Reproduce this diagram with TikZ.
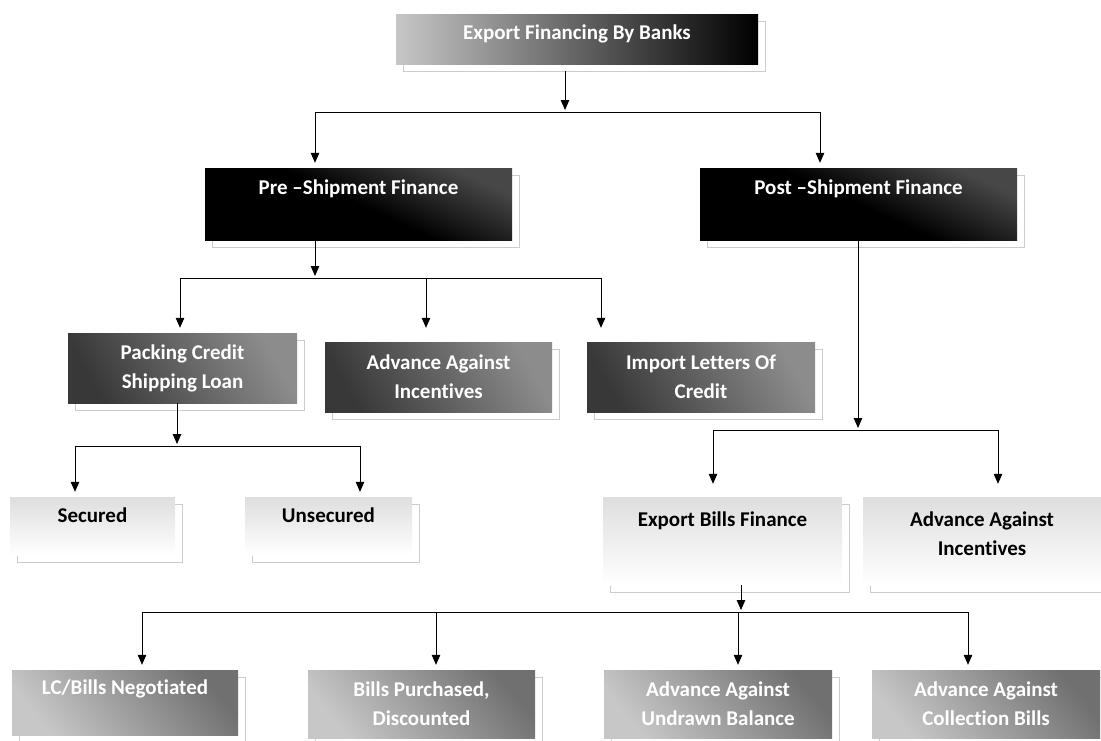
\documentclass[tikz,border=0pt]{standalone}
\usepackage{fontspec}
\setmainfont{Carlito}[Ligatures={TeX,NoCommon}]
\usepackage{tikz}
\usetikzlibrary{positioning}
\usetikzlibrary{arrows.meta}
\usetikzlibrary{shadows}
\tikzset{
    box/.style={shape=rectangle, align=center, inner sep=2pt,
        font=\bfseries\fontsize{21}{29}\selectfont,
        general shadow={shadow xshift=7pt, shadow yshift=-7pt, fill=white, draw=black!20, line width=0.8pt}},
    title node/.style={box, text=white, left color=black!22, right color=black},
    black node/.style={box, text=white, top color=black!72, bottom color=black, middle color=black, shading angle=-25},
    dark node/.style={box, text=white, top color=black!45, bottom color=black!78, shading angle=-60},
    light node/.style={box, text=black, top color=black!13, bottom color=white},
    grey node/.style={box, text=white, top color=black!56, bottom color=black!22, shading angle=-50},
    link/.style={line width=1pt, -{Triangle[length=10pt,width=8.5pt]}, shorten >=5pt},
    bus/.style={line width=1pt}
}
\begin{document}
\begin{tikzpicture}[x=1pt, y=-1pt]
    \useasboundingbox (0,0) rectangle (1101,740);
    % boxes
    \node(export)[title node, minimum width=362pt, minimum height=50pt, text depth=13pt] at (577,39) {Export Financing By Banks};
    \node(pre)[black node, minimum width=307pt, minimum height=72pt, text depth=34pt] at (358.5,204) {Pre –Shipment Finance};
    \node(post)[black node, minimum width=317pt, minimum height=72pt, text depth=34pt] at (858.5,204) {Post –Shipment Finance};
    \node(pack)[dark node, minimum width=229pt, minimum height=70pt] at (182.5,368) {Packing Credit\\Shipping Loan};
    \node(advpre)[dark node, minimum width=227pt, minimum height=70pt] at (438.5,377) {Advance Against\\Incentives};
    \node(import)[dark node, minimum width=228pt, minimum height=70pt] at (701,377) {Import Letters Of\\Credit};
    \node(secured)[light node, minimum width=165pt, minimum height=58pt, text depth=21pt] at (92.5,526) {Secured};
    \node(unsecured)[light node, minimum width=167pt, minimum height=58pt, text depth=21pt] at (328.5,526) {Unsecured};
    \node(bills)[light node, minimum width=239pt, minimum height=88pt, text depth=44pt] at (722.5,541) {Export Bills Finance};
    \node(advpost)[light node, minimum width=238pt, minimum height=88pt, text depth=14pt] at (982,541) {Advance Against\\Incentives};
    \node(lcneg)[grey node, minimum width=226pt, minimum height=65pt, text depth=30pt] at (125,702.5) {LC/Bills Negotiated};
    \node(purchased)[grey node, minimum width=227pt, minimum height=68pt] at (421.5,704) {Bills Purchased,\\Discounted};
    \node(undrawn)[grey node, minimum width=228pt, minimum height=68pt] at (718,704) {Advance Against\\Undrawn Balance};
    \node(collect)[grey node, minimum width=228pt, minimum height=68pt] at (986,704) {Advance Against\\Collection Bills};
    % junctions
    \coordinate(j0) at (565,112);
    \coordinate(j0l) at (315,112);
    \coordinate(j0r) at (820,112);
    \coordinate(j1) at (315,278);
    \coordinate(j1l) at (180,278);
    \coordinate(j1m) at (426,278);
    \coordinate(j1r) at (601,278);
    \coordinate(j2) at (177,446);
    \coordinate(j2l) at (75,446);
    \coordinate(j2r) at (360,446);
    \coordinate(j3) at (858,430);
    \coordinate(j3l) at (713,430);
    \coordinate(j3r) at (998,430);
    \coordinate(j4) at (741,612);
    \coordinate(j4a) at (142,612);
    \coordinate(j4b) at (436,612);
    \coordinate(j4c) at (738,612);
    \coordinate(j4d) at (968,612);
    % connectors
    \draw[link, shorten <=7pt, shorten >=2pt](export.south -| j0) -- (j0);
    \draw[bus](j0l) -- (j0r);
    \draw[link](j0l) -- (j0l |- pre.north);
    \draw[link](j0r) -- (j0r |- post.north);
    \draw[link, shorten >=2pt](pre.south -| j1) -- (j1);
    \draw[bus](j1l) -- (j1r);
    \draw[link](j1l) -- (j1l |- pack.north);
    \draw[link, shorten >=14pt](j1m) -- (j1m |- advpre.north);
    \draw[link, shorten >=14pt](j1r) -- (j1r |- import.north);
    \draw[link, shorten >=2pt](pack.south -| j2) -- (j2);
    \draw[bus](j2l) -- (j2r);
    \draw[link](j2l) -- (j2l |- secured.north);
    \draw[link](j2r) -- (j2r |- unsecured.north);
    \draw[link, shorten >=2pt](post.south -| j3) -- (j3);
    \draw[bus](j3l) -- (j3r);
    \draw[link, shorten >=13pt](j3l) -- (j3l |- bills.north);
    \draw[link, shorten >=13pt](j3r) -- (j3r |- advpost.north);
    \draw[link, shorten >=2pt](bills.south -| j4) -- (j4);
    \draw[bus](j4a) -- (j4d);
    \draw[link](j4a) -- (j4a |- lcneg.north);
    \draw[link](j4b) -- (j4b |- purchased.north);
    \draw[link](j4c) -- (j4c |- undrawn.north);
    \draw[link](j4d) -- (j4d |- collect.north);
\end{tikzpicture}
\end{document}
